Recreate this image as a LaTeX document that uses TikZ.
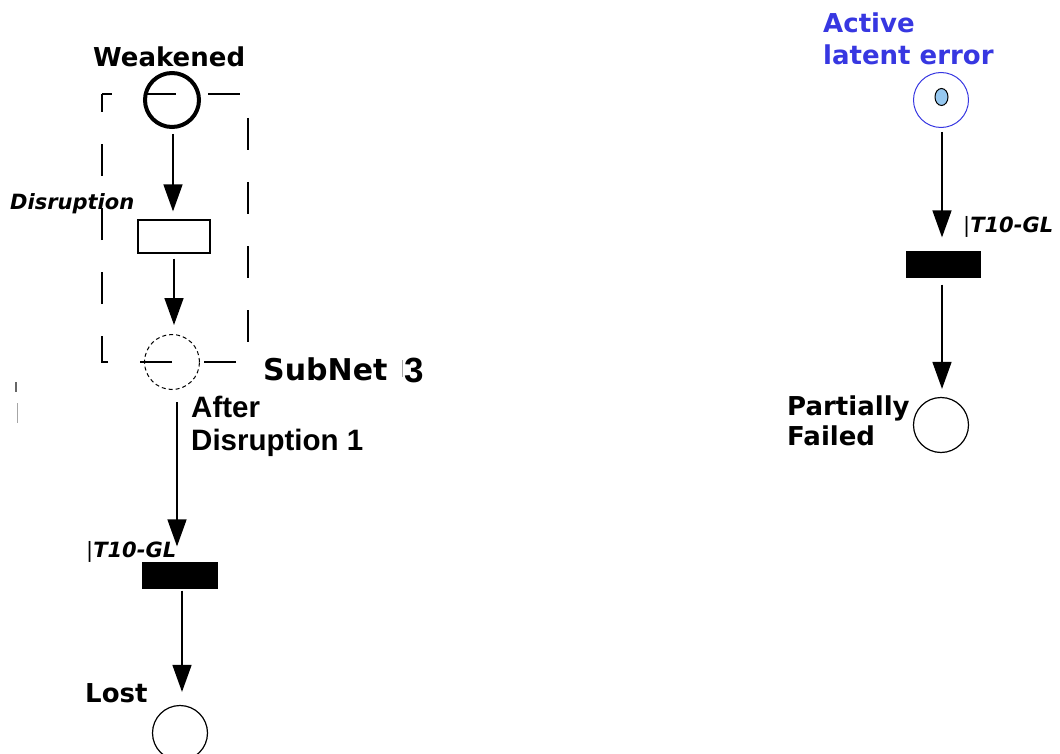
\documentclass[tikz,border=0pt]{standalone}
\usepackage{fontspec}
\newfontfamily\dejavu{DejaVu Sans}
\newfontfamily\arialike{Liberation Sans}
\usetikzlibrary{arrows.meta,shapes.geometric}
\definecolor{netblue}{RGB}{55,55,225}
\definecolor{tokenblue}{RGB}{150,200,240}
\begin{document}
\begin{tikzpicture}[x=1pt,y=-1pt,
  place/.style={circle,draw,line width=1.2pt,minimum size=55pt,inner sep=0pt},
  trans/.style={rectangle,draw,line width=1.2pt,inner sep=0pt},
  lbl/.style={anchor=base west,inner sep=0pt,font=\dejavu\bfseries\fontsize{26}{30}\selectfont},
  ilbl/.style={anchor=base west,inner sep=0pt,font=\dejavu\bfseries\itshape\fontsize{21}{25}\selectfont},
  albl/.style={anchor=base west,inner sep=0pt,font=\arialike\bfseries\fontsize{29.5}{34}\selectfont},
  arc/.style={line width=1.5pt,-{Triangle[length=27pt,width=19pt]}},
  faint/.style={line width=1pt,black!35},
]
\useasboundingbox (0,0) rectangle (1060,754);

% subnet frame
\draw[line width=1.5pt,dash pattern=on 32pt off 32pt,dash phase=22pt]
  (102,94) -- (248,94) -- (248,362) -- (102,362) -- cycle;

% left net
\node[place,line width=4pt,minimum size=54pt] (w) at (172,100) {};
\node[lbl] (wl) at (93,67) {Weakened};
\node[trans,minimum width=72pt,minimum height=33pt] (dis) at (174,236.5) {};
\node[ilbl] (disl) at (10,210) {Disruption};
\node[place,line width=1pt,dash pattern=on 4pt off 3pt] (sub) at (172,362) {};
\node[lbl,font=\dejavu\bfseries\fontsize{30}{34}\selectfont] (subl) at (263,380) {SubNet};
\node[anchor=base west,inner sep=0pt,font=\arialike\bfseries\fontsize{35}{40}\selectfont] (sub3) at (404,382) {3};
\draw[faint] (402,360) -- (402,377);
\node[albl] (af1) at (191,417) {After};
\node[albl] (af2) at (191,450) {Disruption 1};
\node[trans,fill=black,minimum width=74pt,minimum height=25pt] (t1) at (180,575.5) {};
\node[ilbl] (t1l) at (86,557) {{\mdseries\upshape|}T10-GL};
\node[place] (lost) at (180,733) {};
\node[lbl] (lostl) at (85,702) {Lost};

\draw[arc,shorten <=5pt,shorten >=8pt] ([xshift=1pt]w.south) -- ([xshift=1pt]w.south |- dis.north);
\draw[arc,shorten <=5pt,shorten >=9pt] (dis.south) -- (dis.south |- sub.north);
\draw[arc,shorten <=12pt,shorten >=16pt] ([xshift=5pt]sub.south) -- ([xshift=5pt]sub.south |- t1.north);
\draw[arc,shorten <=2pt,shorten >=13pt] ([xshift=2pt]t1.south) -- ([xshift=2pt]t1.south |- lost.north);

% stray marks at the left border
\draw[line width=1.5pt,black!60] (16,382) -- (16,392);
\draw[faint] (17,403) -- (17,423);

% right net
\node[place,draw=netblue,line width=1pt] (act) at (941,100) {};
\node[ellipse,draw,fill=tokenblue,line width=1pt,minimum width=13pt,minimum height=17pt,inner sep=0pt] (tok) at (941.5,97) {};
\node[lbl,text=netblue] (actl1) at (823,33) {Active};
\node[lbl,text=netblue] (actl2) at (823,65) {latent error};
\node[trans,fill=black,minimum width=73pt,minimum height=25pt] (t2) at (943.5,264.5) {};
\node[ilbl] (t2l) at (963,233) {{\mdseries\upshape|}T10-GL};
\node[place] (pf) at (941,425) {};
\node[lbl] (pfl1) at (787,415) {Partially};
\node[lbl] (pfl2) at (787,445) {Failed};

\draw[arc,shorten <=4pt,shorten >=14pt] ([xshift=1pt]act.south) -- ([xshift=1pt]act.south |- t2.north);
\draw[arc,shorten <=7pt,shorten >=8pt] ([xshift=-1.5pt]t2.south) -- ([xshift=-1.5pt]t2.south |- pf.north);
\end{tikzpicture}
\end{document}
